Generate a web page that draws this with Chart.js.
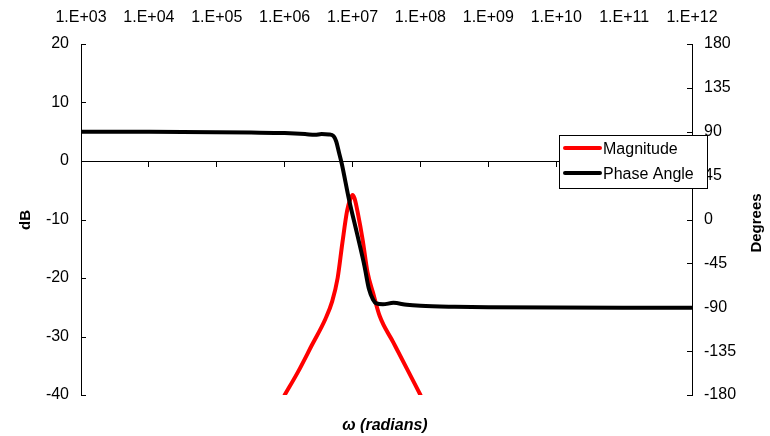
<!DOCTYPE html>
<html>
<head>
<meta charset="utf-8">
<script src="https://cdn.jsdelivr.net/npm/chart.js@4.4.1/dist/chart.umd.min.js"></script>
<style>
  html, body { margin: 0; padding: 0; background: #fff; }
  #wrap { width: 770px; height: 436px; position: relative; }
</style>
</head>
<body>
<div id="wrap"><canvas id="bode"></canvas></div>
<script>
// decade ticks shown on both x axes
const decades = [1e3, 1e4, 1e5, 1e6, 1e7, 1e8, 1e9, 1e10, 1e11, 1e12];

// magnitude (dB)
const magOmega = [1.0e6, 1.58e6, 2.51e6, 3.98e6, 5.01e6, 6.03e6, 7.08e6, 8.32e6, 9.33e6, 1.0e7, 1.07e7, 1.2e7, 1.41e7, 1.66e7, 2.0e7, 2.51e7, 3.98e7, 6.31e7, 1.0e8];
const magDb = [-40, -36, -31.5, -27, -24, -20, -14, -8.5, -6.4, -5.8, -6.4, -9, -13.5, -19, -22.5, -26.5, -31, -35.5, -40];

// phase angle (degrees)
const phaseOmega = [1e3, 1e4, 1e5, 3.2e5, 1e6, 2e6, 2.8e6, 3.5e6, 4.5e6, 5.25e6, 5.75e6, 6.3e6, 6.9e6, 8.9e6, 1.16e7, 1.5e7, 1.74e7, 2.0e7, 2.24e7, 2.8e7, 4.0e7, 6.3e7, 1e8, 3.2e8, 1e9, 1e12];
const phaseDeg = [90, 90, 89.6, 89.2, 88.6, 87.6, 86.8, 87.6, 87.2, 85.5, 80, 69, 58, 20, -14, -48, -71, -82, -86, -87, -85.5, -87.5, -88.5, -89.5, -90, -90.5];

const FONT = '"Liberation Sans", Arial, sans-serif';
Chart.defaults.font.family = FONT;
Chart.defaults.font.size = 16;
Chart.defaults.color = '#000';

function decadeTicks(axis) {
  axis.ticks = decades.map(v => ({ value: v }));
}

function expLabel(v) {
  const e = Math.round(Math.log10(v));
  return '1.E+' + (e < 10 ? '0' + e : e);
}

// inward tick marks, axis titles and the boxed legend
const extras = {
  id: 'extras',
  afterDraw(chart) {
    const { ctx, chartArea, scales } = chart;
    ctx.save();
    ctx.strokeStyle = '#000';
    ctx.lineWidth = 1;
    ctx.beginPath();
    scales.y.ticks.forEach(t => {
      const py = Math.round(scales.y.getPixelForValue(t.value)) + 0.5;
      ctx.moveTo(chartArea.left, py);
      ctx.lineTo(chartArea.left + 5, py);
    });
    scales.y2.ticks.forEach(t => {
      const py = Math.round(scales.y2.getPixelForValue(t.value)) + 0.5;
      ctx.moveTo(chartArea.right, py);
      ctx.lineTo(chartArea.right - 5, py);
    });
    ctx.stroke();

    // titles
    ctx.fillStyle = '#000';
    ctx.textAlign = 'center';
    ctx.textBaseline = 'middle';
    ctx.font = 'bold 15px ' + FONT;
    ctx.save();
    ctx.translate(26, 220);
    ctx.rotate(-Math.PI / 2);
    ctx.fillText('dB', 0, 0);
    ctx.restore();
    ctx.save();
    ctx.translate(757, 223);
    ctx.rotate(-Math.PI / 2);
    ctx.fillText('Degrees', 0, 0);
    ctx.restore();
    ctx.font = 'italic bold 16px ' + FONT;
    ctx.fillText('\u03c9 (radians)', 385, 426);

    // legend
    const bx = 559, by = 135, bw = 148, bh = 53;
    ctx.fillStyle = '#fff';
    ctx.fillRect(bx, by, bw, bh);
    ctx.strokeRect(bx + 0.5, by + 0.5, bw, bh);
    ctx.font = '16px ' + FONT;
    ctx.textAlign = 'left';
    chart.data.datasets.forEach((ds, i) => {
      const ly = by + 13 + i * 25;
      ctx.strokeStyle = ds.borderColor;
      ctx.lineWidth = 4;
      ctx.lineCap = 'round';
      ctx.beginPath();
      ctx.moveTo(565, ly);
      ctx.lineTo(600, ly);
      ctx.stroke();
      ctx.fillStyle = '#000';
      ctx.fillText(ds.label, 603, ly + 2);
    });
    ctx.restore();
  }
};

new Chart(document.getElementById('bode'), {
  type: 'line',
  data: {
    datasets: [
      {
        label: 'Magnitude',
        data: magOmega.map((w, i) => ({ x: w, y: magDb[i] })),
        borderColor: '#ff0000',
        borderWidth: 4,
        pointRadius: 0,
        tension: 0.4,
        cubicInterpolationMode: 'monotone',
        borderCapStyle: 'round',
        borderJoinStyle: 'round',
        xAxisID: 'x',
        yAxisID: 'y',
        order: 1,
      },
      {
        label: 'Phase Angle',
        data: phaseOmega.map((w, i) => ({ x: w, y: phaseDeg[i] })),
        borderColor: '#000000',
        borderWidth: 4,
        pointRadius: 0,
        tension: 0.4,
        cubicInterpolationMode: 'monotone',
        borderCapStyle: 'round',
        borderJoinStyle: 'round',
        xAxisID: 'x',
        yAxisID: 'y2',
        order: 0,
      },
    ],
  },
  options: {
    responsive: true,
    maintainAspectRatio: false,
    animation: false,
    layout: { padding: { top: 0, bottom: 41, left: 0, right: 0 } },
    plugins: { legend: { display: false }, tooltip: { enabled: false } },
    scales: {
      x: {
        type: 'logarithmic',
        min: 1e3,
        max: 1e12,
        position: { y: 0 },
        afterBuildTicks: decadeTicks,
        ticks: { display: false },
        grid: { drawOnChartArea: false, drawTicks: true, tickLength: 5, color: '#000' },
        border: { color: '#000' },
      },
      xTop: {
        type: 'logarithmic',
        min: 1e3,
        max: 1e12,
        position: 'top',
        afterBuildTicks: decadeTicks,
        afterFit: s => { s.height = 44; },
        ticks: { callback: v => expLabel(v), autoSkip: false, maxRotation: 0, padding: 9 },
        grid: { display: false },
        border: { display: false },
      },
      y: {
        position: 'left',
        min: -40,
        max: 20,
        afterFit: s => { s.width = 81; },
        ticks: { stepSize: 10, padding: 12 },
        grid: { drawOnChartArea: false, drawTicks: false },
        border: { color: '#000' },
      },
      y2: {
        position: 'right',
        min: -180,
        max: 180,
        afterFit: s => { s.width = 78; },
        ticks: { stepSize: 45, padding: 12 },
        grid: { drawOnChartArea: false, drawTicks: false },
        border: { color: '#000' },
      },
    },
  },
  plugins: [extras],
});
</script>
</body>
</html>
